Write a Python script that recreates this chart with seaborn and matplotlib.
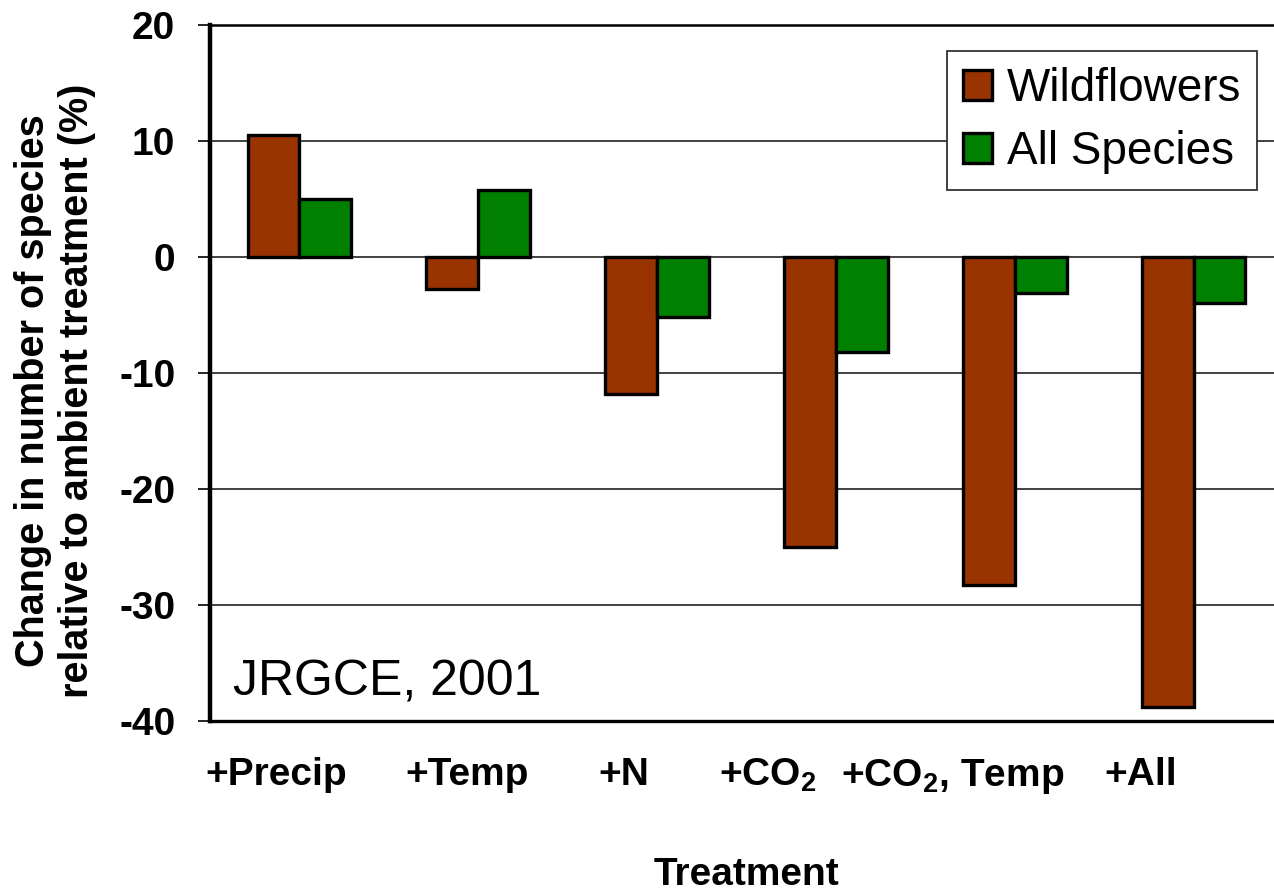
import matplotlib
matplotlib.use("Agg")
import matplotlib.pyplot as plt
import matplotlib.transforms as mtransforms
import seaborn as sns
import pandas as pd

# Treatments along the x axis
treatments = ["+Precip", "+Temp", "+N", r"+CO$_\mathbf{2}$",
              r"+CO$_\mathbf{2}$, Temp", "+All"]
# Change in number of species relative to ambient (%)
wildflowers = [10.5, -2.8, -11.8, -25.0, -28.3, -38.8]
all_species = [5.0, 5.8, -5.2, -8.2, -3.1, -4.0]
series_names = ["Wildflowers", "All Species"]
y_ticks = [-40, -30, -20, -10, 0, 10, 20]

# Horizontal nudge of each category label (pixels), as typeset
label_nudge_px = [-23, -11, -33, -68, -62, -53]

df = pd.DataFrame({
    "Treatment": treatments * 2,
    "Change": wildflowers + all_species,
    "Group": [series_names[0]] * len(treatments) + [series_names[1]] * len(treatments),
})

sns.set_style("white")
plt.rcParams["font.family"] = ["Liberation Sans", "DejaVu Sans"]
plt.rcParams["mathtext.fontset"] = "custom"
plt.rcParams["mathtext.rm"] = "Liberation Sans:bold"
plt.rcParams["mathtext.bf"] = "Liberation Sans:bold"
plt.rcParams["mathtext.it"] = "Liberation Sans:bold"
for key in ["text.color", "axes.labelcolor", "xtick.color", "ytick.color"]:
    plt.rcParams[key] = "black"

W, H = 1274, 892
fig = plt.figure(figsize=(W / 100, H / 100), dpi=100)
ax = fig.add_axes([210 / W, 1 - 721 / H, (1283 - 210) / W, (721 - 25) / H])

palette = {"Wildflowers": "#993300", "All Species": "#008000"}
sns.barplot(data=df, x="Treatment", y="Change", hue="Group", palette=palette,
            width=0.58, gap=0, edgecolor="black", linewidth=2.4,
            saturation=1, ax=ax, legend=True)

ax.set_xlim(-0.5, 5.5)
ax.set_ylim(-40, 20)

ax.tick_params(axis="y", direction="out", length=9, width=1.2, pad=16,
               left=True, color="black")
ax.tick_params(axis="x", length=0, pad=26)

ax.set_yticks(y_ticks)
ax.set_yticklabels([str(t) for t in y_ticks], fontsize=28, fontweight="bold")
ax.set_xticks(range(len(treatments)))
ax.set_xticklabels(treatments, fontsize=28, fontweight="bold")
for lbl, dx in zip(ax.get_xticklabels(), label_nudge_px):
    lbl.set_transform(lbl.get_transform() +
                      mtransforms.ScaledTranslation(dx / 100, 0, fig.dpi_scale_trans))

ax.yaxis.grid(True, color="#333333", linewidth=1.3)
ax.xaxis.grid(False)
ax.set_axisbelow(True)

for side in ["left", "bottom", "top"]:
    ax.spines[side].set_visible(True)
    ax.spines[side].set_color("black")
ax.spines["left"].set_linewidth(3.2)
ax.spines["bottom"].set_linewidth(2.4)
ax.spines["top"].set_linewidth(1.8)
ax.spines["right"].set_visible(False)

ax.set_xlabel("Treatment", fontsize=28, fontweight="bold")
ax.xaxis.set_label_coords(0.5, -0.195)
ax.set_ylabel("Change in number of species\nrelative to ambient treatment (%)",
              fontsize=28.5, fontweight="bold", linespacing=1.2, va="center")
ax.yaxis.set_label_coords(-0.1445, 0.474)

ax.text(23 / 1073, 26 / 696, "JRGCE, 2001", transform=ax.transAxes,
        fontsize=36, va="baseline", ha="left")

leg = ax.legend(loc="upper left", bbox_to_anchor=(947 / W, 1 - 51 / H),
                bbox_transform=fig.transFigure, borderaxespad=0,
                fontsize=33, frameon=True, fancybox=False,
                handlelength=0.64, handleheight=0.64, handletextpad=0.32,
                labelspacing=0.42, borderpad=0.35, title=None)
leg.get_frame().set_edgecolor("#333333")
leg.get_frame().set_linewidth(1.3)
leg.get_frame().set_alpha(1)

fig.savefig("out.png", dpi=100)
